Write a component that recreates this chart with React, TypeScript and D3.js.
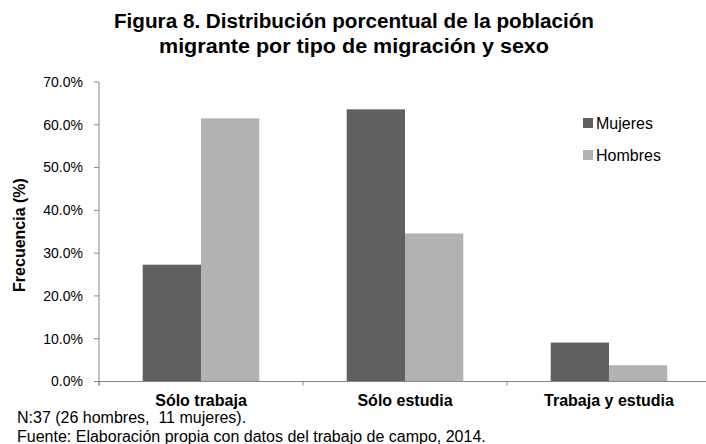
import React from "react";
import * as d3 from "d3";

const categories = ["Sólo trabaja", "Sólo estudia", "Trabaja y estudia"];
const seriesNames = ["Mujeres", "Hombres"];
const mujeres = [27.3, 63.6, 9.1];
const hombres = [61.5, 34.6, 3.8];
const yTicks = [0, 10, 20, 30, 40, 50, 60, 70];
const colors = ["#606060", "#b2b2b2"];
const titleLines = [
  "Figura 8. Distribución porcentual de la población",
  "migrante por tipo de migración y sexo",
];
const footerLines = [
  "N:37 (26 hombres,  11 mujeres).",
  "Fuente: Elaboración propia con datos del trabajo de campo, 2014.",
];

export default function App() {
  const W = 706;
  const H = 444;
  const x0 = d3.scaleBand<string>().domain(categories).range([99, 711]).paddingInner(0).paddingOuter(0);
  const x1 = d3
    .scaleBand<string>()
    .domain(seriesNames)
    .range([0, x0.bandwidth()])
    .paddingInner(0)
    .paddingOuter(0.75);
  const y = d3.scaleLinear().domain([0, 70]).range([381.5, 82]);
  const seriesData = [mujeres, hombres];
  const font = "'Liberation Sans', Arial, sans-serif";
  const axisColor = "#878787";
  const tickXs = categories.map((c) => x0(c)!).concat([x0.range()[1]]);
  const titleWidths = [480, 390];

  return (
    <svg
      width={W}
      height={H}
      style={{ position: "absolute", left: 0, top: 0, background: "#fff" }}
      fontFamily={font}
    >
      <rect x={0} y={0} width={W} height={H} fill="#fff" />
      {titleLines.map((t, i) => (
        <text
          key={i}
          x={354}
          y={28 + i * 25}
          textAnchor="middle"
          fontWeight="bold"
          fontSize={19.5}
          textLength={titleWidths[i]}
          lengthAdjust="spacingAndGlyphs"
          fill="#000"
        >
          {t}
        </text>
      ))}
      {/* bars */}
      {seriesNames.map((s, si) =>
        categories.map((c, ci) => (
          <rect
            key={s + c}
            x={x0(c)! + x1(s)!}
            y={y(seriesData[si][ci])}
            width={x1.bandwidth()}
            height={y(0) - y(seriesData[si][ci])}
            fill={colors[si]}
          />
        ))
      )}
      {/* y axis */}
      <line x1={99} x2={99} y1={y(70)} y2={y(0) + 4} stroke={axisColor} strokeWidth={1} />
      {yTicks.map((t) => (
        <g key={t}>
          <line x1={94} x2={99} y1={y(t)} y2={y(t)} stroke={axisColor} />
          <text x={83} y={y(t)} dy="0.35em" textAnchor="end" fontSize={14} fill="#000">
            {d3.format(".1f")(t) + "%"}
          </text>
        </g>
      ))}
      {/* x axis */}
      <line x1={94} x2={W} y1={y(0)} y2={y(0)} stroke={axisColor} />
      {tickXs.map((tx, i) => (
        <line key={i} x1={tx} x2={tx} y1={y(0)} y2={y(0) + 4} stroke={axisColor} />
      ))}
      {categories.map((c) => (
        <text
          key={c}
          x={x0(c)! + x0.bandwidth() / 2}
          y={406}
          textAnchor="middle"
          fontWeight="bold"
          fontSize={16}
          fill="#000"
        >
          {c}
        </text>
      ))}
      {/* y label */}
      <text
        transform={`translate(25,235) rotate(-90)`}
        textAnchor="middle"
        fontWeight="bold"
        fontSize={16}
        fill="#000"
      >
        Frecuencia (%)
      </text>
      {/* legend */}
      {seriesNames.map((s, i) => (
        <g key={s} transform={`translate(583,${123 + i * 32})`}>
          <rect x={0} y={-5} width={10} height={10} fill={colors[i]} />
          <text x={13} y={0} dy="0.35em" fontSize={16} fill="#000">
            {s}
          </text>
        </g>
      ))}
      {/* footer */}
      {footerLines.map((t, i) => (
        <text key={i} x={17} y={423} dy={i * 19} fontSize={16} fill="#000" style={{ whiteSpace: "pre" }}>
          {t}
        </text>
      ))}
    </svg>
  );
}
